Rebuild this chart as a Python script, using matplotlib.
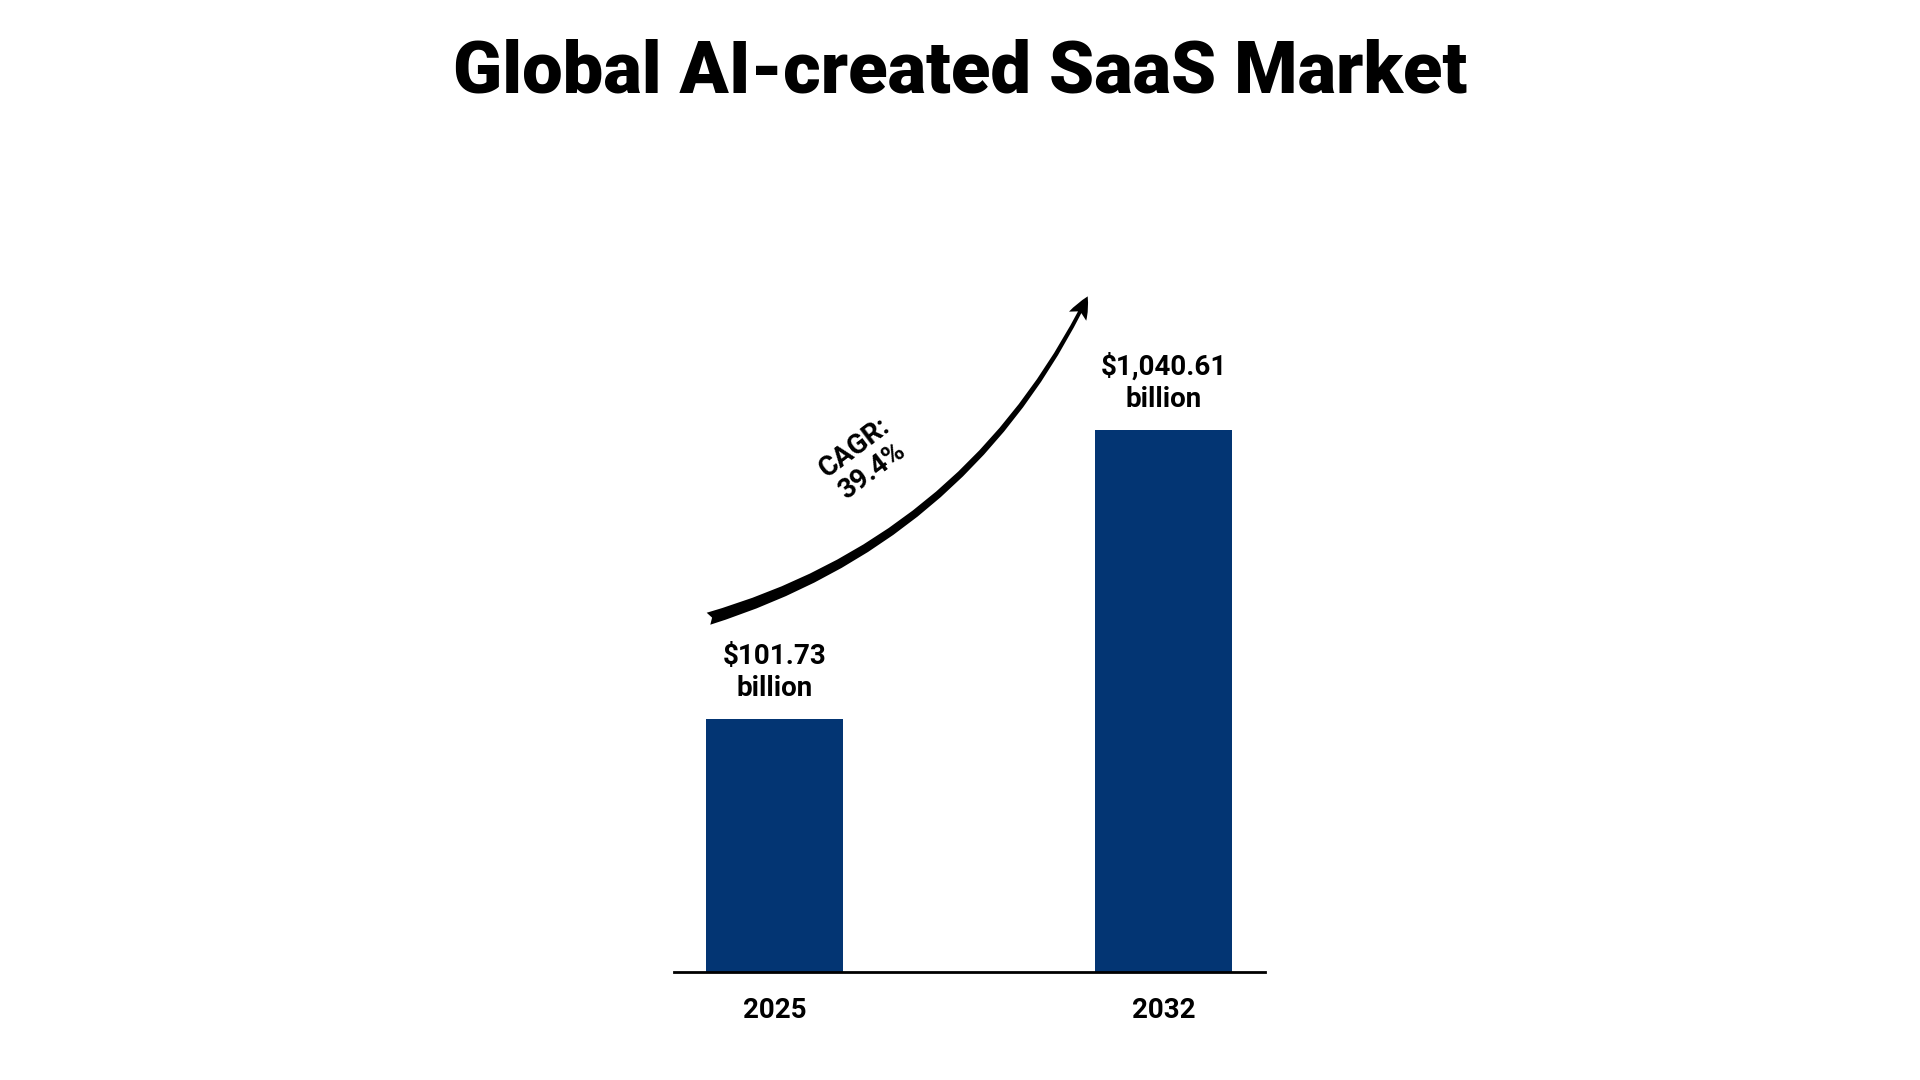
import matplotlib
matplotlib.use("Agg")
import matplotlib.pyplot as plt

years = ["2025", "2032"]
values = [101.73, 1040.61]
labels = ["$101.73\nbillion", "$1,040.61\nbillion"]
cagr = "CAGR:\n39.4%"

fig = plt.figure(figsize=(19.2, 10.8), dpi=100)
ax = fig.add_axes([0.351, 0.0998, 0.308, 0.730])
ax.set_yscale("log")
ax.bar(range(len(years)), values, width=0.352, color="#033573")
ax.set_ylim(13.2, 7550)
ax.set_xlim(-0.258, 1.261)
for s in ["top", "right", "left"]:
    ax.spines[s].set_visible(False)
ax.spines["bottom"].set_linewidth(2)
ax.set_yticks([]); ax.set_yticks([], minor=True)
ax.set_xticks(range(len(years)))
ax.set_xticklabels(years, fontsize=20, fontweight="bold", family="Roboto")
ax.tick_params(axis="x", length=0, pad=18)
for i, (v, l) in enumerate(zip(values, labels)):
    ax.annotate(l, (i, v), xytext=(0, 12), textcoords="offset points",
                ha="center", va="bottom", fontsize=20, fontweight="bold",
                family="Roboto", linespacing=1.25)
ax.annotate("", xy=(0.808, 3112), xytext=(-0.176, 226),
            arrowprops=dict(arrowstyle="fancy,head_length=1.6,head_width=1.4,tail_width=0.9",
                            connectionstyle="arc3,rad=0.22", color="black", lw=0),
            annotation_clip=False)
fig.text(705/1568, 1 - 375/882, cagr, rotation=37, ha="center", va="center",
         fontsize=20, fontweight="bold", family="Roboto", linespacing=1.1)
fig.text(0.5, 1 - 60/882, "Global AI-created SaaS Market", ha="center", va="center",
         fontsize=52, fontweight="black", family="Roboto")
fig.savefig("out.png")
